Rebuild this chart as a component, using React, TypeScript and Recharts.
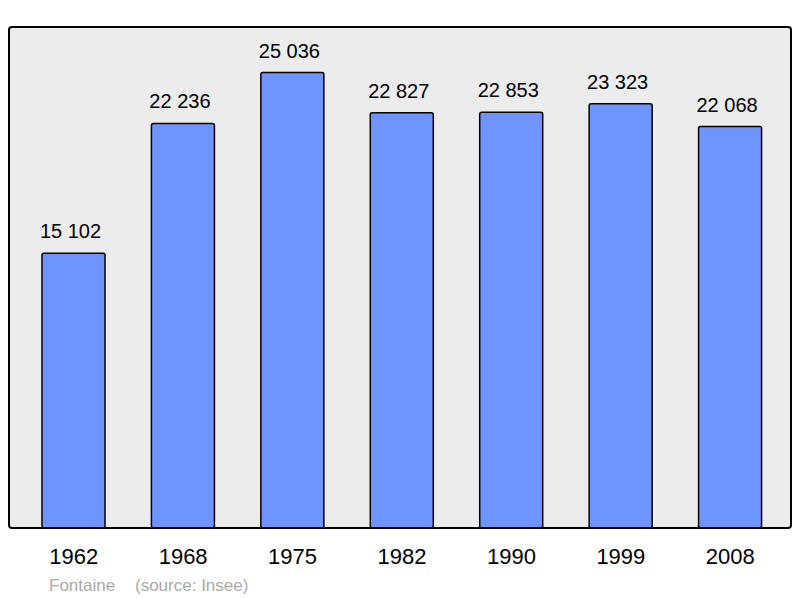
import React from "react";
import { BarChart, Bar, XAxis, YAxis, LabelList, CartesianGrid } from "recharts";

const years = ["1962", "1968", "1975", "1982", "1990", "1999", "2008"];
const population = [15102, 22236, 25036, 22827, 22853, 23323, 22068];
const commune = "Fontaine";
const source = "(source: Insee)";

const data = years.map((year, i) => ({ year, population: population[i] }));

const font = '"Liberation Sans", Arial, sans-serif';

const fmt = (v: number) => String(v).replace(/\B(?=(\d{3})+(?!\d))/g, " ");

export default function App() {
  return (
    <div style={{ position: "absolute", left: 0, top: 0, width: 800, height: 598, background: "#fff" }}>
      <BarChart
        width={800}
        height={598}
        data={data}
        margin={{ top: 27, right: 9, left: 9, bottom: 0 }}
        style={{ fontFamily: font }}
      >
        <CartesianGrid fill="#ececec" horizontal={false} vertical={false} />
        <YAxis hide domain={[0, 27540]} />
        <XAxis
          dataKey="year"
          height={70}
          padding={{ left: 10, right: 6 }}
          axisLine={false}
          tickLine={false}
          tickSize={0}
          tickMargin={20}
          tick={{ fill: "#000", fontSize: 22 }}
          interval={0}
        />
        <Bar
          dataKey="population"
          barSize={63}
          fill="#7094ff"
          stroke="#000"
          strokeWidth={1.5}
          radius={2}
          isAnimationActive={false}
        >
          <LabelList
            dataKey="population"
            position="top"
            offset={15}
            dx={-3}
            formatter={(v: any) => fmt(Number(v))}
            style={{ fill: "#000", fontSize: 20, fontFamily: font }}
          />
        </Bar>
      </BarChart>
      <svg
        width={800}
        height={598}
        style={{ position: "absolute", left: 0, top: 0, pointerEvents: "none" }}
      >
        <rect x={9} y={27} width={782} height={501} rx={3} fill="none" stroke="#000" strokeWidth={2} />
        <text x={49} y={590.5} fontSize={17} fill="#aaaaaa" fontFamily={font}>
          {commune}
        </text>
        <text x={135} y={590.5} fontSize={17} fill="#aaaaaa" fontFamily={font}>
          {source}
        </text>
      </svg>
    </div>
  );
}
